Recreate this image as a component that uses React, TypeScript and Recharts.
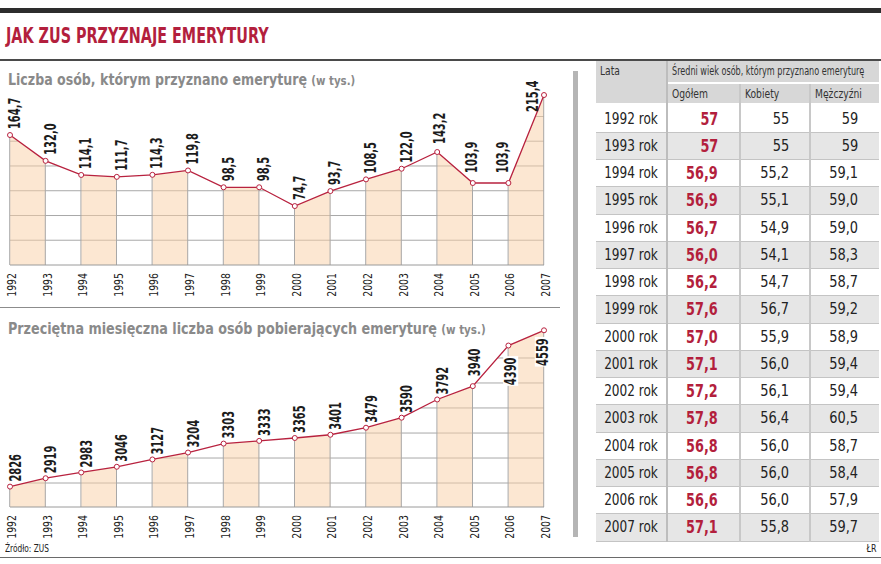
import React from 'react';
import { ComposedChart, Area, Line, Bar, XAxis, YAxis, CartesianGrid, LabelList } from 'recharts';

const years = [1992, 1993, 1994, 1995, 1996, 1997, 1998, 1999, 2000, 2001, 2002, 2003, 2004, 2005, 2006, 2007];
const grantedValues = [164.7, 132.0, 114.1, 111.7, 114.3, 119.8, 98.5, 98.5, 74.7, 93.7, 108.5, 122.0, 143.2, 103.9, 103.9, 215.4];
const recipientsValues = [2826, 2919, 2983, 3046, 3127, 3204, 3303, 3333, 3365, 3401, 3479, 3590, 3792, 3940, 4390, 4559];
const topDomain = [0, 220];
const bottomDomain = [2600, 4600];
const topGridValues = [31.4, 62.7, 94.1, 125.5, 156.9, 188.2];
const bottomGridValues = [2866, 3143, 3420, 3698, 3975, 4252];

const tableLabels = ['1992 rok', '1993 rok', '1994 rok', '1995 rok', '1996 rok', '1997 rok', '1998 rok', '1999 rok', '2000 rok', '2001 rok', '2002 rok', '2003 rok', '2004 rok', '2005 rok', '2006 rok', '2007 rok'];
const avgTotal = ['57', '57', '56,9', '56,9', '56,7', '56,0', '56,2', '57,6', '57,0', '57,1', '57,2', '57,8', '56,8', '56,8', '56,6', '57,1'];
const avgWomen = ['55', '55', '55,2', '55,1', '54,9', '54,1', '54,7', '56,7', '55,9', '56,0', '56,1', '56,4', '56,0', '56,0', '56,0', '55,8'];
const avgMen = ['59', '59', '59,1', '59,0', '59,0', '58,3', '58,7', '59,2', '58,9', '59,4', '59,4', '60,5', '58,7', '58,4', '57,9', '59,7'];
const subHeaders = ['Ogółem', 'Kobiety', 'Mężczyźni'];

const FONT = "'DejaVu Sans Condensed', 'DejaVu Sans', sans-serif";
const RED = '#b31f3d';
const LINE_RED = '#b8223f';
const PEACH = '#f9cfa6';
const GRID = '#a8a8a8';

const segKeys = Array.from({ length: years.length / 2 }, (_, k) => `s${k}`);

const buildRows = (vals: number[]) =>
  years.map((year, i) => {
    const row: any = { year, v: vals[i] };
    segKeys.forEach((k) => (row[k] = null));
    row[`s${Math.floor(i / 2)}`] = vals[i];
    return row;
  });

const topRows = buildRows(grantedValues);
const bottomRows = buildRows(recipientsValues);

const YearTick = (props: any) => {
  const { x, y, payload } = props;
  return (
    <text transform={`translate(${x + 6},${y + 8}) rotate(-90) scale(0.8,1)`} textAnchor="end" fontSize={13} fontFamily={FONT} fill="#222">
      {payload.value}
    </text>
  );
};

const LS = 0.69;
const labelStyle = { fontSize: 16, fontFamily: FONT, fontWeight: 700, fill: '#1c1c1c' } as any;

const fmt1 = (v: number) => v.toFixed(1).replace('.', ',');

const Up = ({ bx, by, txt }: any) => (
  <text transform={`translate(${bx},${by}) rotate(-90) scale(${LS},1)`} textAnchor="start" {...labelStyle}>
    {txt}
  </text>
);

const TopLabel = (props: any) => {
  const { x, y, index, value } = props;
  if (x == null || y == null) return null;
  const txt = fmt1(Number(value));
  const last = years.length - 1;
  if (index === last) return <Up bx={x - 6} by={y + 17} txt={txt} />;
  if (index === last - 1) return <Up bx={x} by={y - 10} txt={txt} />;
  if (index === last - 2) return <Up bx={x + 4.5} by={y - 10} txt={txt} />;
  if (index === last - 3) return <Up bx={x + 8} by={y - 8} txt={txt} />;
  return <Up bx={x + 10} by={y - 6} txt={txt} />;
};

const BottomLabel = (props: any) => {
  const { x, y, index, value } = props;
  if (x == null || y == null) return null;
  const txt = String(value);
  const last = years.length - 1;
  if (index === last - 1 || index === last) {
    const bx = index === last - 1 ? x + 7.8 : x + 3.8;
    const by = index === last - 1 ? y + 12 : y + 8;
    return (
      <g transform={`translate(${bx},${by}) rotate(-90) scale(${LS},1)`}>
        <rect x={-41} y={-13} width={43} height={15} fill="#fff" />
        <text textAnchor="end" {...labelStyle}>
          {txt}
        </text>
      </g>
    );
  }
  if (index === last - 2) return <Up bx={x + 7.3} by={y - 10} txt={txt} />;
  return <Up bx={x + 10.5} by={y - 5} txt={txt} />;
};

const SeriesChart = ({ rows, domain, grid, label, top, height, marginTop }: any) => (
  <div style={{ position: 'absolute', left: 0, top, width: 560, height }}>
    <ComposedChart width={560} height={height} data={rows} margin={{ top: marginTop, right: 16, bottom: 0, left: 10 }}>
      <CartesianGrid horizontal vertical={false} horizontalValues={grid} stroke={GRID} strokeWidth={1} />
      {segKeys.map((k) => (
        <Area key={k} dataKey={k} type="linear" fill={PEACH} fillOpacity={0.5} stroke="none" connectNulls={false} isAnimationActive={false} dot={false} activeDot={false} />
      ))}
      <Area dataKey="v" type="linear" baseValue="dataMax" fill="#ffffff" fillOpacity={1} stroke="none" isAnimationActive={false} dot={false} activeDot={false} />
      <Bar dataKey="v" barSize={1} fill="#a8a8a8" isAnimationActive={false} />
      <Line
        dataKey="v"
        type="linear"
        stroke={LINE_RED}
        strokeWidth={1.3}
        dot={{ r: 2.5, fill: '#fff', stroke: LINE_RED, strokeWidth: 1 }}
        activeDot={false}
        isAnimationActive={false}
      >
        <LabelList dataKey="v" content={label} />
      </Line>
      <XAxis
        dataKey="year"
        type="number"
        domain={[years[0], years[years.length - 1]]}
        ticks={years}
        interval={0}
        axisLine={{ stroke: '#9a9a9a' }}
        tickLine={false}
        tickSize={0}
        tickMargin={0}
        height={40}
        tick={<YearTick />}
      />
      <YAxis hide type="number" domain={domain} allowDataOverflow />
    </ComposedChart>
  </div>
);

const abs = (s: any) => ({ position: 'absolute', ...s } as any);

const ROW_TOP = 105.5;
const ROW_H = 27.25;
const colX = [596, 668, 741, 811];
const colW = [70, 71, 68, 68];
const colRight = [0, 21, 20, 21];

export default function App() {
  return (
    <div style={abs({ left: 0, top: 0, width: 881, height: 564, overflow: 'hidden', background: '#fff', fontFamily: FONT })}>
      <SeriesChart rows={topRows} domain={topDomain} grid={topGridValues} label={<TopLabel />} top={60} height={245} marginTop={31.4} />
      <SeriesChart rows={bottomRows} domain={bottomDomain} grid={bottomGridValues} label={<BottomLabel />} top={310} height={237} marginTop={16.6} />

      {/* rules */}
      <div style={abs({ left: 0, top: 8, width: 881, height: 4.5, background: '#2d2d2d' })} />
      <div style={abs({ left: 0, top: 58.5, width: 881, height: 2, background: '#4a4a4a' })} />
      <div style={abs({ left: 0, top: 307, width: 560, height: 1, background: '#8c8c8c' })} />
      <div style={abs({ left: 0, top: 556.5, width: 881, height: 1, background: '#6a6a6a' })} />

      {/* titles */}
      <div style={abs({ left: 6, top: 25.5, fontSize: 21, lineHeight: '21px', fontWeight: 700, color: RED, whiteSpace: 'nowrap', transform: 'scaleX(0.76)', transformOrigin: 'left top' })}>
        JAK ZUS PRZYZNAJE EMERYTURY
      </div>
      <div style={abs({ left: 8, top: 72, fontSize: 16, lineHeight: '16px', fontWeight: 700, color: '#8a8a8a', whiteSpace: 'nowrap', transform: 'scaleX(0.875)', transformOrigin: 'left top' })}>
        Liczba osób, którym przyznano emeryturę <span style={{ fontSize: 13 }}>(w tys.)</span>
      </div>
      <div style={abs({ left: 8, top: 321, fontSize: 16, lineHeight: '16px', fontWeight: 700, color: '#8a8a8a', whiteSpace: 'nowrap', transform: 'scaleX(0.885)', transformOrigin: 'left top' })}>
        Przeciętna miesięczna liczba osób pobierających emeryturę <span style={{ fontSize: 13 }}>(w tys.)</span>
      </div>

      {/* footer */}
      <div style={abs({ left: 5, top: 543, fontSize: 11, lineHeight: '11px', color: '#222', whiteSpace: 'nowrap', transform: 'scaleX(0.75)', transformOrigin: 'left top' })}>Źródło: ZUS</div>
      <div style={abs({ right: 5, top: 543, fontSize: 11, lineHeight: '11px', color: '#222', whiteSpace: 'nowrap', transform: 'scaleX(0.8)', transformOrigin: 'right top' })}>ŁR</div>

      {/* table */}
      <div style={abs({ left: 573, top: 70.5, width: 5, height: 466, background: '#b5b5b5' })} />
      <div style={abs({ left: 596, top: 60.5, width: 70, height: 42, background: '#d7d7d7' })} />
      <div style={abs({ left: 600, top: 64, fontSize: 12, lineHeight: '14px', color: '#333', transform: 'scaleX(0.85)', transformOrigin: 'left top' })}>Lata</div>
      <div style={abs({ left: 668, top: 60.5, width: 211, height: 21, background: '#d7d7d7' })} />
      <div style={abs({ left: 672, top: 64, width: 280, fontSize: 12, lineHeight: '14px', color: '#333', whiteSpace: 'nowrap', transform: 'scaleX(0.75)', transformOrigin: 'left top' })}>
        Średni wiek osób, którym przyznano emeryturę
      </div>
      {subHeaders.map((h, c) => (
        <div key={h} style={abs({ left: colX[c + 1], top: 83.5, width: colW[c + 1], height: 19.5, background: '#d7d7d7' })}>
          <div style={{ position: 'absolute', left: 4, top: 3, fontSize: 12, lineHeight: '14px', color: '#333', whiteSpace: 'nowrap', transform: 'scaleX(0.85)', transformOrigin: 'left top' }}>{h}</div>
        </div>
      ))}

      {tableLabels.map((lab, i) => {
        const top = ROW_TOP + i * ROW_H;
        const bg = i % 2 === 1 ? '#e6e6e6' : '#ffffff';
        const cells = [lab, avgTotal[i], avgWomen[i], avgMen[i]];
        return (
          <React.Fragment key={lab}>
            {cells.map((txt, c) => (
              <div
                key={c}
                style={abs({
                  left: colX[c],
                  top,
                  width: colW[c],
                  height: ROW_H - 1,
                  background: bg,
                  borderBottom: '1px solid #c4c4c4',
                })}
              >
                <span
                  style={{
                    position: 'absolute',
                    left: c === 0 ? 0 : undefined,
                    right: colRight[c],
                    top: 0,
                    textAlign: c === 0 ? 'center' : 'right',
                    lineHeight: `${ROW_H - 1}px`,
                    fontSize: c === 0 ? 16 : c === 1 ? 17 : 16,
                    fontWeight: c === 1 ? 700 : 400,
                    color: c === 1 ? RED : '#222',
                    whiteSpace: 'nowrap',
                    transform: `scaleX(${c === 0 ? 0.84 : c === 1 ? 0.84 : 0.9})`,
                    transformOrigin: c === 0 ? 'center center' : 'right center',
                  }}
                >
                  {txt}
                </span>
              </div>
            ))}
          </React.Fragment>
        );
      })}
      <div style={abs({ left: 666, top: 60.5, width: 2, height: 481, background: '#bdbdbd' })} />
      <div style={abs({ left: 739, top: 83.5, width: 2, height: 458, background: '#c8c8c8' })} />
      <div style={abs({ left: 809, top: 83.5, width: 2, height: 458, background: '#c8c8c8' })} />
    </div>
  );
}
